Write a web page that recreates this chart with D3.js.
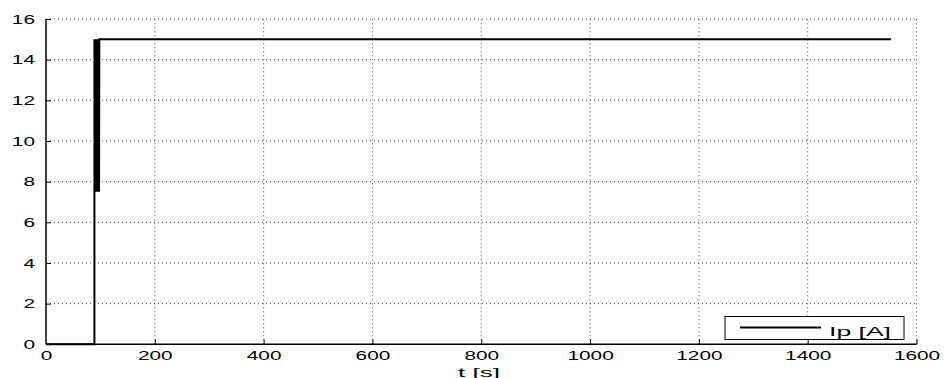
<!DOCTYPE html>
<html><head><meta charset="utf-8">
<script src="https://cdn.jsdelivr.net/npm/d3@7"></script>
<style>
body{margin:0;background:#fff;}
text{font-family:"Liberation Sans",Arial,sans-serif;fill:#000;}
</style></head>
<body><svg id="c" width="944" height="378"></svg>
<script>
const time = [0, 89, 89, 89.5, 90, 90.5, 91, 91.5, 92, 92.5, 93, 93.5, 94, 94.5, 95, 95.5, 96, 96.5, 97, 97.5, 98, 1553];
const current = [0, 0, 15, 7.5, 15, 7.5, 15, 7.5, 15, 7.5, 15, 7.5, 15, 7.5, 15, 7.5, 15, 7.5, 15, 7.5, 15, 15];
const xTicks = [0, 200, 400, 600, 800, 1000, 1200, 1400, 1600];
const yTicks = [0, 2, 4, 6, 8, 10, 12, 14, 16];
const seriesName = "Ip [A]";
const xLabel = "t [s]";

const svg = d3.select("#c");
const L = 46, R = 916.5, T = 19, B = 344.3;
const x = d3.scaleLinear().domain([0, 1600]).range([L, R]);
const y = d3.scaleLinear().domain([0, 16]).range([B, T]);
const FS = 13;

function stretchTo(sel, factor){
  sel.each(function(){
    const w = this.getComputedTextLength();
    d3.select(this).attr("textLength", w*factor).attr("lengthAdjust","spacingAndGlyphs");
  });
}

// grid
const g = svg.append("g");
g.selectAll(".gx").data(xTicks.slice(1)).join("line")
  .attr("x1", d=>x(d)).attr("x2", d=>x(d)).attr("y1", B).attr("y2", T)
  .attr("stroke", "#444").attr("stroke-width", 1).attr("stroke-dasharray", "1,3");
g.selectAll(".gy").data(yTicks.slice(1)).join("line")
  .attr("x1", L).attr("x2", R).attr("y1", d=>y(d)).attr("y2", d=>y(d))
  .attr("stroke", "#444").attr("stroke-width", 1).attr("stroke-dasharray", "1,3");

// axes
const xa = svg.append("g").attr("transform", `translate(0,${B})`)
  .call(d3.axisBottom(x).tickValues(xTicks).tickSize(-5).tickFormat(d3.format("d")));
const ya = svg.append("g").attr("transform", `translate(${L},0)`)
  .call(d3.axisLeft(y).tickValues(yTicks).tickSize(-5).tickFormat(d3.format("d")));
[xa, ya].forEach(a=>{
  a.select(".domain").attr("stroke","#000").attr("stroke-width",1.5);
  a.selectAll(".tick line").attr("stroke","#000").attr("stroke-width",1);
  a.selectAll(".tick text").attr("font-size", FS).attr("font-family","Liberation Sans, Arial, sans-serif").call(stretchTo, 1.6);
});
ya.select(".domain").attr("d", `M0,${B}V${T}`);
xa.select(".domain").attr("d", `M${L},0H${R}`);
xa.selectAll(".tick").filter(d=>d===0).select("line").remove();
ya.selectAll(".tick").filter(d=>d===0).select("line").remove();
xa.selectAll(".tick text").each(function(){
  const w = +d3.select(this).attr("textLength");
  d3.select(this).attr("text-anchor","start").attr("x", -w/2).attr("y", 16).attr("dy", 0);
});
ya.selectAll(".tick text").each(function(){
  const w = +d3.select(this).attr("textLength");
  d3.select(this).attr("text-anchor","start").attr("x", -11 - w);
});

// line
const data = time.map((t,i)=>[t, current[i]]);
svg.append("path").datum(data)
  .attr("fill","none").attr("stroke","#000").attr("stroke-width",2)
  .attr("d", d3.line().x(d=>x(d[0])).y(d=>y(d[1])));

// x label
svg.append("text").attr("x", 458).attr("y", 376.5).attr("font-size", FS)
  .text(xLabel).attr("textLength", 42).attr("lengthAdjust","spacingAndGlyphs");

// legend
const lg = svg.append("g");
lg.append("rect").attr("x", 725).attr("y", 316.5).attr("width", 179).attr("height", 23)
  .attr("fill","#fff").attr("stroke","#000").attr("stroke-width",1);
lg.append("line").attr("x1", 740).attr("x2", 821).attr("y1", 327.5).attr("y2", 327.5)
  .attr("stroke","#000").attr("stroke-width",2);
lg.append("text").attr("x", 829).attr("y", 336).attr("font-size", FS).text(seriesName)
  .attr("textLength", 62).attr("lengthAdjust","spacingAndGlyphs");
</script></body></html>
